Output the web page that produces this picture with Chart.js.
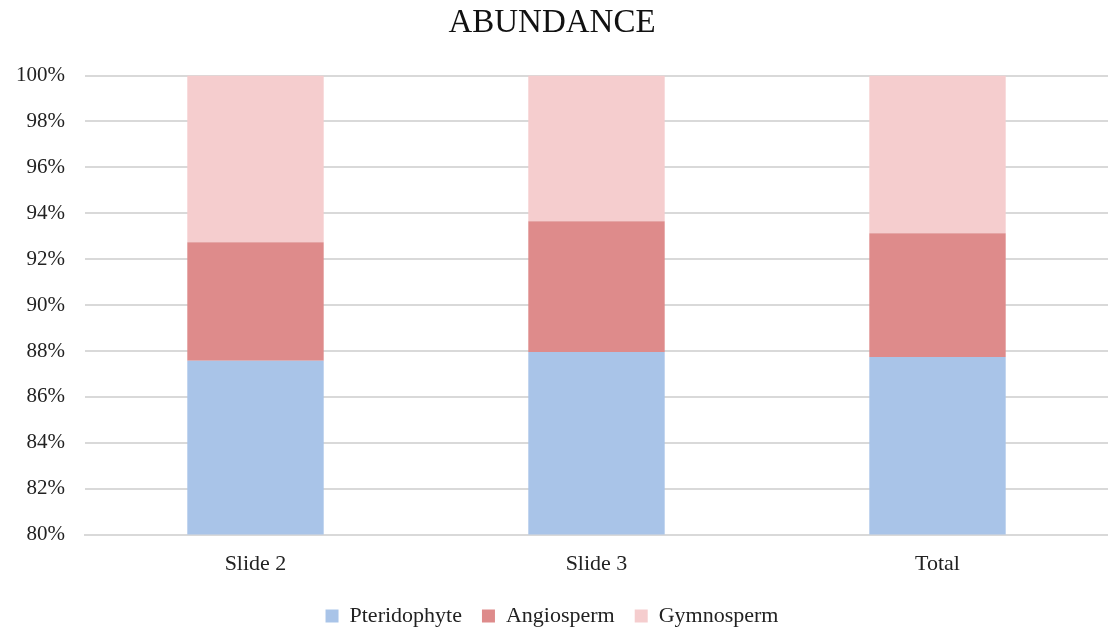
<!DOCTYPE html>
<html>
<head>
<meta charset="utf-8">
<script src="https://cdn.jsdelivr.net/npm/chart.js@4/dist/chart.umd.min.js"></script>
<style>
    html, body { margin: 0; padding: 0; background: #fff; }
    #wrap { width: 1108px; height: 634px; position: relative; }
</style>
</head>
<body>
<div id="wrap"><canvas id="abundanceChart"></canvas></div>
<script>
// data (percent of each column)
const categories = ['Slide 2', 'Slide 3', 'Total'];
const pteridophyte = [87.57, 87.96, 87.74];
const angiosperm = [5.17, 5.69, 5.39];
const gymnosperm = [7.26, 6.35, 6.87];
const seriesNames = ['Pteridophyte', 'Angiosperm', 'Gymnosperm'];
const seriesColors = ['#A9C4E8', '#DE8B8B', '#F5CDCE'];

const serif = "'Liberation Serif', 'DejaVu Serif', serif";

const ctx = document.getElementById('abundanceChart').getContext('2d');
new Chart(ctx, {
    type: 'bar',
    data: {
        labels: categories,
        datasets: [pteridophyte, angiosperm, gymnosperm].map((values, i) => ({
            label: seriesNames[i],
            data: values,
            backgroundColor: seriesColors[i],
            borderWidth: 0,
            barPercentage: 0.4,
            categoryPercentage: 1
        }))
    },
    options: {
        responsive: true,
        maintainAspectRatio: false,
        animation: false,
        layout: { padding: { left: -4, right: 0, top: 0, bottom: -3 } },
        scales: {
            x: {
                stacked: true,
                grid: { display: false },
                border: { display: true, color: '#d9d9d9', width: 2 },
                ticks: { color: '#222', font: { family: serif, size: 22 }, padding: 8 }
            },
            y: {
                stacked: true,
                min: 80,
                max: 100,
                grid: { color: '#d9d9d9', lineWidth: 2, drawTicks: false },
                border: { display: false },
                ticks: {
                    stepSize: 2,
                    color: '#222',
                    padding: 20,
                    font: { family: serif, size: 21 },
                    callback: v => v + '%'
                }
            }
        },
        plugins: {
            title: {
                display: true,
                text: 'ABUNDANCE',
                color: '#111',
                font: { family: serif, size: 33, weight: 'normal' },
                padding: { top: 4, bottom: 32 }
            },
            legend: {
                display: true,
                position: 'bottom',
                labels: {
                    color: '#222',
                    font: { family: serif, size: 22 },
                    boxWidth: 13,
                    boxHeight: 13,
                    padding: 20
                }
            },
            tooltip: { enabled: false }
        }
    }
});
</script>
</body>
</html>
